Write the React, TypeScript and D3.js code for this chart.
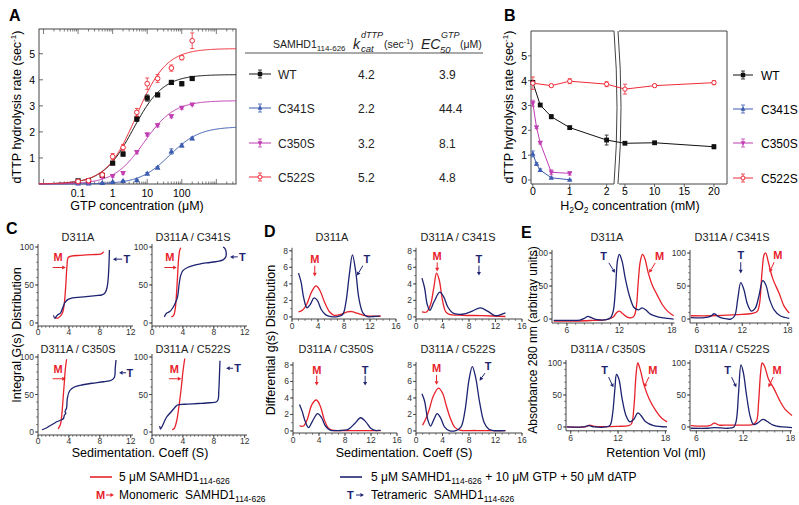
import React from "react";
import * as d3 from "d3";

type Pt = [number, number];

const FONT = "'Liberation Sans', Arial, Helvetica, sans-serif";
const RED = "#e8222b";
const NAVY = "#1d2370";
const AX = "#444";

// ---------------- Panel A data ----------------
const variants = ["WT", "C341S", "C350S", "C522S"];
const kcatValues = [4.2, 2.2, 3.2, 5.2];
const ec50Values = [3.9, 44.4, 8.1, 4.8];
const gtpConc = [0.1, 0.2, 0.5, 1, 2, 5, 10, 20, 50, 100, 200];
const rateWT = [0.12, 0.12, 0.33, 0.8, 1.15, 2.5, 3.3, 3.42, 3.9, 3.85, 4.05];
const rateC341S = [0.02, 0.02, 0.04, 0.08, 0.12, 0.15, 0.4, 0.63, 1.25, 1.48, 1.75];
const rateC350S = [0.05, 0.06, 0.27, 0.3, 0.42, 1.22, 1.9, 2.25, 2.6, 2.92, 3.05];
const rateC522S = [0.1, 0.13, 0.35, 1.05, 1.4, 2.75, 3.85, 4.05, 4.45, 4.85, 5.5];
const errWT = [0.03, 0.03, 0.05, 0.06, 0.08, 0.1, 0.12, 0.06, 0.05, 0.08, 0.04];
const errC341S = [0.02, 0.02, 0.02, 0.02, 0.02, 0.03, 0.04, 0.04, 0.1, 0.06, 0.05];
const errC350S = [0.03, 0.03, 0.04, 0.04, 0.04, 0.06, 0.06, 0.06, 0.06, 0.05, 0.04];
const errC522S = [0.04, 0.05, 0.08, 0.12, 0.12, 0.15, 0.22, 0.15, 0.12, 0.08, 0.3];
const aXTicks = [0.1, 1, 10, 100];
const aXTickLabels = ["0.1", "1", "10", "100"];
const aYTicks = [1, 2, 3, 4, 5];

// ---------------- Panel B data ----------------
const bxWT = [0, 0.2, 0.5, 1, 2, 5, 10, 20];
const byWT = [3.93, 3.02, 2.55, 2.11, 1.61, 1.48, 1.5, 1.34];
const beWT = [0.08, 0.05, 0.08, 0.05, 0.2, 0.05, 0.05, 0.08];
const bxC341S = [0, 0.1, 0.2, 0.5, 1];
const byC341S = [1.05, 0.65, 0.4, 0.09, 0.01];
const beC341S = [0.12, 0.05, 0.05, 0.03, 0.02];
const bxC350S = [0, 0.1, 0.2, 0.5, 1];
const byC350S = [3.09, 2.12, 1.5, 0.31, 0.27];
const beC350S = [0.12, 0.05, 0.05, 0.1, 0.07];
const bxC522S = [0, 0.5, 1, 2, 5, 10, 20];
const byC522S = [3.9, 3.8, 3.98, 3.86, 3.66, 3.8, 3.92];
const beC522S = [0.25, 0.05, 0.1, 0.1, 0.2, 0.05, 0.08];
const bXTicksLeft = [0, 1, 2];
const bXTicksRight = [5, 10, 15, 20];
const bYTicks = [0, 1, 2, 3, 4, 5];

// ---------------- Panel C data (integral G(s)) ----------------
const cD311A_red: Pt[] = [[2.2, 8], [2.5, 6], [2.9, 9], [3.2, 14], [3.4, 25], [3.6, 50], [3.75, 75], [3.9, 86], [4.3, 88], [5.5, 89], [7, 90], [8.2, 91], [8.5, 94]];
const cD311A_blue: Pt[] = [[2.0, 10], [2.2, 6], [2.4, 9], [2.6, 11], [2.9, 13], [3.2, 20], [3.5, 27], [3.9, 31], [4.5, 33], [5.5, 34], [6.5, 35], [7.5, 36], [8.3, 37], [8.7, 40], [8.95, 47], [9.1, 60], [9.2, 80], [9.25, 96]];
const cC341S_red: Pt[] = [[2.5, 8], [2.8, 10], [3.0, 18], [3.15, 35], [3.3, 60], [3.45, 85], [3.6, 96], [3.75, 99]];
const cC341S_blue: Pt[] = [[1.6, 8], [1.9, 13], [2.3, 15], [2.7, 20], [3.0, 26], [3.3, 34], [3.5, 50], [3.7, 62], [4.0, 69], [4.6, 73], [5.5, 76], [7, 79], [8.5, 81], [9.2, 83], [9.55, 87], [9.6, 93], [9.45, 98], [9.2, 100]];
const cC350S_red: Pt[] = [[2.6, 4], [2.9, 10], [3.1, 25], [3.25, 45], [3.4, 65], [3.55, 85], [3.7, 97]];
const cC350S_blue: Pt[] = [[0.5, 3], [1.0, 5], [1.5, 8], [2.0, 11], [2.5, 14], [3.0, 16], [3.3, 18], [3.4, 22], [3.6, 25], [3.5, 27], [3.7, 32], [3.8, 45], [4.1, 55], [4.7, 60], [5.8, 63], [7, 65], [8.5, 67], [9.5, 69], [9.9, 73], [10.0, 85], [10.1, 96]];
const cC522S_red: Pt[] = [[2.6, 3], [2.9, 5], [3.2, 15], [3.5, 35], [3.8, 60], [4.0, 80], [4.2, 95], [4.25, 98]];
const cC522S_blue: Pt[] = [[1.0, 8], [1.1, 4], [1.3, 7], [1.6, 14], [1.9, 20], [2.4, 26], [2.9, 32], [3.3, 36], [4.2, 37], [6, 38], [7.5, 39], [8.3, 40], [8.55, 43], [8.65, 55], [8.75, 80], [8.8, 95]];
const cXTicks = [0, 4, 8, 12];
const cYTicks = [0, 50, 100];

// ---------------- Panel D data (differential g(s)) ----------------
const dD311A_blue: Pt[] = [[1.0, 5.3], [1.4, 4.2], [1.8, 2.3], [2.3, 1.1], [2.8, 1.5], [3.4, 2.3], [3.9, 2.0], [4.5, 0.9], [5.2, 0.25], [6, 0.05], [7, 0.05], [7.8, 0.3], [8.3, 1.8], [8.8, 5], [9.3, 7.5], [9.8, 5.5], [10.3, 2.2], [10.9, 0.5], [11.6, 0.05], [12.5, 0.05], [13.5, 0.1]];
const dD311A_red: Pt[] = [[1.0, 0.6], [1.6, 0.8], [2.3, 1.6], [3.0, 3.0], [3.7, 3.75], [4.3, 3.2], [5.0, 1.8], [5.8, 0.6], [6.5, 0.2], [7.5, 0.3], [8.5, 0.6], [9.2, 0.65], [10, 0.45], [11, 0.2], [12, 0.1], [13.7, 0.1]];
const dC341S_blue: Pt[] = [[0.9, 4.7], [1.3, 3.5], [1.7, 1.5], [2.1, 0.8], [2.7, 1.8], [3.6, 3.0], [4.2, 2.4], [4.8, 1.2], [5.5, 0.5], [6.5, 0.3], [7.5, 0.4], [8.5, 0.7], [9.7, 1.1], [10.8, 0.7], [11.8, 0.2], [12.3, 0.15], [13.0, 0.35], [13.5, 0.5]];
const dC341S_red: Pt[] = [[0.9, 0.6], [1.6, 0.6], [2.2, 1.5], [2.7, 3.6], [3.1, 5.3], [3.5, 4.5], [4.0, 2.0], [4.5, 0.6], [5, 0.3], [7, 0.2], [10, 0.15], [13.5, 0.05]];
const dC350S_blue: Pt[] = [[1.0, 3.2], [1.4, 2.4], [1.9, 1.1], [2.4, 0.4], [3.0, 1.2], [3.8, 2.1], [4.4, 1.6], [5.0, 0.6], [5.7, 0.1], [7, 0.05], [8.5, 0.2], [9.5, 0.9], [10.4, 1.6], [11.2, 1.1], [12, 0.3], [12.8, 0.05], [13.5, 0.1]];
const dC350S_red: Pt[] = [[1.0, 0.6], [1.6, 0.6], [2.2, 1.4], [2.9, 3.2], [3.6, 3.75], [4.2, 3.0], [4.8, 1.4], [5.4, 0.4], [6, 0.1], [8, 0.05], [13.5, 0.05]];
const dC522S_blue: Pt[] = [[0.9, 4.5], [1.3, 3.6], [1.8, 1.3], [2.2, 0.6], [2.7, 1.4], [3.2, 2.1], [3.7, 1.6], [4.3, 0.5], [5, 0.05], [6, 0.05], [6.8, 0.5], [7.4, 2.5], [8.0, 6.2], [8.5, 7.8], [9.0, 6.5], [9.6, 3.5], [10.3, 1.0], [11.0, 0.2], [11.6, 0.05], [13.5, 0.05]];
const dC522S_red: Pt[] = [[1.0, 0.7], [1.5, 1.5], [2.0, 2.6], [2.6, 4.2], [3.4, 5.2], [4.0, 4.6], [4.6, 3.0], [5.2, 1.5], [5.8, 0.5], [6.6, 0.1], [9, 0.05], [13.5, 0.05]];
const dXTicks = [0, 4, 8, 12, 16];
const dYTicks = [0, 2, 4, 6, 8];

// ---------------- Panel E data (gel filtration) ----------------
const eD311A_blue: Pt[] = [[4.5, -2], [6, -2], [7.5, -1.5], [8.0, 1], [8.4, 4], [8.8, 2], [9.5, -1], [10.5, -1], [11.0, 2], [11.3, 12], [11.55, 45], [11.8, 90], [12.0, 98], [12.3, 88], [12.7, 60], [13.2, 33], [13.7, 17], [14.2, 14], [14.6, 17], [15.0, 14], [15.6, 7], [16.5, 3], [17.5, 1], [18.2, 0]];
const eD311A_red: Pt[] = [[4.5, -3], [7, -3], [9, -2], [10.5, -1], [11.3, 3], [11.7, 10], [12.0, 12], [12.4, 8], [12.9, 3], [13.4, 2], [13.7, 5], [13.95, 20], [14.15, 55], [14.4, 88], [14.65, 98], [14.9, 92], [15.3, 70], [15.8, 50], [16.3, 37], [16.9, 22], [17.5, 12], [18.2, 5]];
const eC341S_blue: Pt[] = [[5.2, 2], [7, 2], [7.8, 4], [8.3, 8], [8.8, 4], [9.5, 1], [10.5, 0], [11.0, 5], [11.4, 30], [11.8, 55], [12.2, 45], [12.7, 22], [13.2, 12], [13.7, 16], [14.2, 35], [14.7, 58], [15.1, 52], [15.6, 30], [16.2, 14], [17, 5], [18.2, 1]];
const eC341S_red: Pt[] = [[5.2, 5], [8, 5], [10, 6], [12, 7], [13.5, 9], [14.0, 12], [14.3, 25], [14.6, 70], [14.9, 98], [15.1, 100], [15.4, 88], [16, 62], [16.9, 38], [17.5, 20], [18.2, 9]];
const eC350S_blue: Pt[] = [[5.5, 0], [7.5, 0], [8.3, 2], [9, 0], [10.5, 0], [11, 3], [11.3, 20], [11.6, 60], [11.8, 82], [12.1, 75], [12.5, 45], [13, 18], [13.5, 8], [14.0, 12], [14.5, 22], [14.9, 18], [15.5, 8], [16.5, 2], [18.2, 0]];
const eC350S_red: Pt[] = [[5.5, 0], [7.8, 0], [8.4, 3], [9, 1], [12, 1], [13.3, 2], [13.7, 5], [14.0, 30], [14.3, 85], [14.5, 100], [14.8, 90], [15.3, 65], [15.9, 45], [16.8, 25], [17.5, 14], [18.2, 8]];
const eC522S_blue: Pt[] = [[5.3, -2], [7.5, -2], [8.3, -1], [10, -2], [10.8, 0], [11.1, 10], [11.4, 55], [11.7, 97], [12.0, 85], [12.4, 50], [12.9, 15], [13.3, 4], [13.8, 6], [14.5, 12], [15.0, 9], [15.8, 3], [17, 0], [18.2, -1]];
const eC522S_red: Pt[] = [[5.3, 2], [7.7, 2], [8.3, 6], [8.9, 3], [10, 3], [12, 3], [13.3, 4], [13.7, 10], [13.95, 40], [14.2, 85], [14.4, 100], [14.7, 95], [15.2, 75], [15.9, 60], [16.6, 42], [17.3, 28], [18.2, 18]];
const eXTicks = [6, 12, 18];
const eYTicks = [0, 50, 100];

const subTitles = ["D311A", "D311A / C341S", "D311A / C350S", "D311A / C522S"];

// ---------------- helpers ----------------
function Marker({ shape, x, y, color, s = 3 }: { shape: string; x: number; y: number; color: string; s?: number }) {
  if (shape === "square") return <rect x={x - s} y={y - s} width={2 * s} height={2 * s} fill={color} />;
  if (shape === "up") return <path d={`M${x},${y - s * 1.2}L${x + s * 1.1},${y + s * 0.8}L${x - s * 1.1},${y + s * 0.8}Z`} fill={color} />;
  if (shape === "down") return <path d={`M${x},${y + s * 1.2}L${x + s * 1.1},${y - s * 0.8}L${x - s * 1.1},${y - s * 0.8}Z`} fill={color} />;
  return <circle cx={x} cy={y} r={s * 0.9} fill="white" stroke={color} strokeWidth={1} />;
}

function ErrBar({ x, y1, y2, color }: { x: number; y1: number; y2: number; color: string }) {
  return (
    <g stroke={color} strokeWidth={0.8}>
      <line x1={x} x2={x} y1={y1} y2={y2} />
      <line x1={x - 2} x2={x + 2} y1={y1} y2={y1} />
      <line x1={x - 2} x2={x + 2} y1={y2} y2={y2} />
    </g>
  );
}

function Arrow({ x1, y1, x2, y2, color }: { x1: number; y1: number; x2: number; y2: number; color: string }) {
  const a = Math.atan2(y2 - y1, x2 - x1);
  const L = 3.6, W = 2;
  const bx = x2 - L * Math.cos(a), by = y2 - L * Math.sin(a);
  const p1 = [bx + W * Math.sin(a), by - W * Math.cos(a)];
  const p2 = [bx - W * Math.sin(a), by + W * Math.cos(a)];
  return (
    <g>
      <line x1={x1} y1={y1} x2={bx} y2={by} stroke={color} strokeWidth={1} />
      <path d={`M${x2},${y2}L${p1[0]},${p1[1]}L${p2[0]},${p2[1]}Z`} fill={color} />
    </g>
  );
}

type Ann = { t: string; c: string; tx: number; ty: number; a: [number, number, number, number] };

type PlotCfg = {
  xr: [number, number]; xd: [number, number];
  yr: [number, number]; yd: [number, number];
  xTicks: number[]; yTicks: number[];
  minorX: number; minorY: number;
  title: string; titleX: number; titleY: number;
  red: Pt[]; blue: Pt[];
  anns: Ann[];
  labelGap: number;
};

function SmallPlot({ cfg }: { cfg: PlotCfg }) {
  const x = d3.scaleLinear(cfg.xd, cfg.xr);
  const y = d3.scaleLinear(cfg.yd, cfg.yr);
  const line = d3.line<Pt>().x(d => x(d[0])).y(d => y(d[1])).curve(d3.curveCatmullRom.alpha(0.5));
  const x0 = cfg.xr[0], yb = cfg.yr[0];
  const yTop = y(cfg.yTicks[cfg.yTicks.length - 1]) - 3;
  const minX = d3.range(Math.ceil(cfg.xd[0] / cfg.minorX) * cfg.minorX, cfg.xd[1] + 1e-9, cfg.minorX);
  const minY = d3.range(Math.ceil(Math.max(0, cfg.yd[0]) / cfg.minorY) * cfg.minorY, cfg.yTicks[cfg.yTicks.length - 1] + 1e-9, cfg.minorY);
  return (
    <g>
      <text x={cfg.titleX} y={cfg.titleY} textAnchor="middle" fontSize={11} fill="#222">{cfg.title}</text>
      <line x1={x0} x2={x0} y1={yb} y2={yTop} stroke={AX} strokeWidth={1} />
      <line x1={x0} x2={cfg.xr[1]} y1={yb} y2={yb} stroke={AX} strokeWidth={1} />
      {minX.map((v, i) => <line key={"mx" + i} x1={x(v)} x2={x(v)} y1={yb} y2={yb + 1.8} stroke={AX} strokeWidth={0.7} />)}
      {minY.map((v, i) => <line key={"my" + i} x1={x0 - 1.8} x2={x0} y1={y(v)} y2={y(v)} stroke={AX} strokeWidth={0.7} />)}
      {cfg.xTicks.map(v => (
        <g key={"xt" + v}>
          <line x1={x(v)} x2={x(v)} y1={yb} y2={yb + 3} stroke={AX} strokeWidth={0.9} />
          <text x={x(v)} y={yb + cfg.labelGap} textAnchor="middle" fontSize={8.5} fill="#333">{v}</text>
        </g>
      ))}
      {cfg.yTicks.map(v => (
        <g key={"yt" + v}>
          <line x1={x0 - 3} x2={x0} y1={y(v)} y2={y(v)} stroke={AX} strokeWidth={0.9} />
          <text x={x0 - 4} y={y(v) + 3} textAnchor="end" fontSize={8.5} fill="#333">{v}</text>
        </g>
      ))}
      <path d={line(cfg.red) || ""} fill="none" stroke={RED} strokeWidth={1.3} />
      <path d={line(cfg.blue) || ""} fill="none" stroke={NAVY} strokeWidth={1.3} />
      {cfg.anns.map((a, i) => (
        <g key={"an" + i}>
          <text x={x(a.tx)} y={y(a.ty)} textAnchor="middle" fontSize={11} fontWeight="bold" fill={a.c}>{a.t}</text>
          <Arrow x1={x(a.a[0])} y1={y(a.a[1])} x2={x(a.a[2])} y2={y(a.a[3])} color={a.c} />
        </g>
      ))}
    </g>
  );
}

// ---------------- Panel A ----------------
function PanelA() {
  const x = d3.scaleLog([0.0074, 3700], [39, 236]);
  const y = d3.scaleLinear([0, 5.95], [184, 29]);
  const colors = ["#111", "#3c5cb0", "#c03db2", "#ef2d38"];
  const shapes = ["square", "up", "down", "circle"];
  const rates = [rateWT, rateC341S, rateC350S, rateC522S];
  const errs = [errWT, errC341S, errC350S, errC522S];
  const fx = d3.range(0, 241).map(i => Math.pow(10, Math.log10(0.0074) + (i / 240) * (Math.log10(3700) - Math.log10(0.0074))));
  const minor: number[] = [];
  for (let e = -2; e <= 3; e++) for (let m = 1; m <= 9; m++) { const v = m * Math.pow(10, e); if (v >= 0.0074 && v <= 3700) minor.push(v); }
  const fit = d3.line<number>().x(v => x(v));
  const rowY = [74, 108, 143, 177];
  return (
    <g>
      <text x={9} y={21} fontSize={16} fontWeight="bold">A</text>
      <rect x={39} y={29} width={197} height={155} fill="none" stroke={AX} strokeWidth={1} />
      {minor.map((v, i) => {
        const major = Math.abs(Math.log10(v) - Math.round(Math.log10(v))) < 1e-6;
        const L = major ? 5 : 2.5;
        return (
          <g key={i} stroke={AX} strokeWidth={0.7}>
            <line x1={x(v)} x2={x(v)} y1={184} y2={184 - L} />
            <line x1={x(v)} x2={x(v)} y1={29} y2={29 + L} />
          </g>
        );
      })}
      {aXTicks.map((v, i) => <text key={v} x={x(v)} y={197} textAnchor="middle" fontSize={10.5}>{aXTickLabels[i]}</text>)}
      {aYTicks.map(v => (
        <g key={v}>
          <line x1={39} x2={43} y1={y(v)} y2={y(v)} stroke={AX} strokeWidth={0.8} />
          <text x={35} y={y(v) + 4} textAnchor="end" fontSize={10.5}>{v}</text>
        </g>
      ))}
      <text x={137} y={210} textAnchor="middle" fontSize={12.5}>GTP concentration (μM)</text>
      <text transform="translate(21,107) rotate(-90)" textAnchor="middle" fontSize={12.5}>
        dTTP hydrolysis rate (sec<tspan fontSize={8} dy={-5}>-1</tspan><tspan dy={5}>)</tspan>
      </text>
      {variants.map((nm, k) => (
        <path key={"fit" + nm} d={fit.y(v => y((kcatValues[k] * v) / (ec50Values[k] + v)))(fx) || ""} fill="none" stroke={colors[k]} strokeWidth={1} />
      ))}
      {variants.map((nm, k) => (
        <g key={"pts" + nm}>
          {gtpConc.map((c, i) => (
            <g key={i}>
              <ErrBar x={x(c)} y1={y(rates[k][i] - errs[k][i])} y2={y(rates[k][i] + errs[k][i])} color={colors[k]} />
              <Marker shape={shapes[k]} x={x(c)} y={y(rates[k][i])} color={colors[k]} s={2.6} />
            </g>
          ))}
        </g>
      ))}
      {/* table */}
      <line x1={245} x2={483} y1={53} y2={53} stroke="#555" strokeWidth={1} />
      <text x={273} y={48} fontSize={10.5} fill="#222">SAMHD1<tspan fontSize={8} dy={3}>114-626</tspan></text>
      <text x={353} y={49} fontSize={14} fontStyle="italic" fill="#222">k</text>
      <text x={361} y={38} fontSize={9} fontStyle="italic" fill="#222">dTTP</text>
      <text x={361} y={52} fontSize={9.5} fontStyle="italic" fill="#222">cat</text>
      <text x={384} y={48} fontSize={10.5} fill="#222">(sec<tspan fontSize={7} dy={-4}>-1</tspan><tspan dy={4}>)</tspan></text>
      <text x={421} y={49} fontSize={14} fontStyle="italic" fill="#222">EC</text>
      <text x={441} y={38} fontSize={9} fontStyle="italic" fill="#222">GTP</text>
      <text x={440} y={53} fontSize={9.5} fontStyle="italic" fill="#222">50</text>
      <text x={460} y={48} fontSize={10.5} fill="#222">(μM)</text>
      {variants.map((nm, k) => (
        <g key={"row" + nm}>
          <line x1={249} x2={271} y1={rowY[k]} y2={rowY[k]} stroke={colors[k]} strokeWidth={1} />
          <ErrBar x={260} y1={rowY[k] - 4} y2={rowY[k] + 4} color={colors[k]} />
          <Marker shape={shapes[k]} x={260} y={rowY[k]} color={colors[k]} s={2.2} />
          <text x={278} y={rowY[k] + 4.5} fontSize={12} fill="#222">{nm}</text>
          <text x={358} y={rowY[k] + 4.5} fontSize={12} fill="#222">{kcatValues[k]}</text>
          <text x={439} y={rowY[k] + 4.5} fontSize={12} fill="#222">{ec50Values[k]}</text>
        </g>
      ))}
    </g>
  );
}

// ---------------- Panel B ----------------
function PanelB() {
  const xl = d3.scaleLinear([-0.05, 2.2], [531, 614]);
  const xrS = d3.scaleLinear([4, 22.2], [619, 727]);
  const bx = (v: number) => (v <= 2.2 ? xl(v) : xrS(v));
  const y = d3.scaleLinear([-0.16, 6], [184, 31]);
  const colors = ["#111", "#3c5cb0", "#c03db2", "#ef2d38"];
  const shapes = ["square", "up", "down", "circle"];
  const xs = [bxWT, bxC341S, bxC350S, bxC522S];
  const ys = [byWT, byC341S, byC350S, byC522S];
  const es = [beWT, beC341S, beC350S, beC522S];
  const legY = [75, 109, 143, 178];
  const ln = d3.line<[number, number]>().x(d => bx(d[0])).y(d => y(d[1]));
  return (
    <g>
      <text x={504} y={21} fontSize={16} fontWeight="bold">B</text>
      <path d="M614,31 L531,31 L531,184 L614,184" fill="none" stroke={AX} strokeWidth={1} />
      <path d="M614,31 Q620,107.5 614,184" fill="none" stroke={AX} strokeWidth={1} />
      <path d="M727,31 L619,31 M619,184 L727,184 L727,31" fill="none" stroke={AX} strokeWidth={1} />
      <path d="M618,31 Q624,107.5 618,184" fill="none" stroke={AX} strokeWidth={1} />
      {bYTicks.map(v => (
        <g key={v}>
          <line x1={528} x2={531} y1={y(v)} y2={y(v)} stroke={AX} strokeWidth={0.8} />
          <text x={527} y={y(v) + 4} textAnchor="end" fontSize={10.5}>{v}</text>
        </g>
      ))}
      {[...bXTicksLeft, ...bXTicksRight].map(v => (
        <g key={v}>
          <line x1={bx(v)} x2={bx(v)} y1={184} y2={187} stroke={AX} strokeWidth={0.8} />
          <text x={bx(v)} y={195} textAnchor="middle" fontSize={10.5}>{v}</text>
        </g>
      ))}
      <text x={630} y={210} textAnchor="middle" fontSize={12.5}>
        H<tspan fontSize={8.5} dy={3}>2</tspan><tspan dy={-3}>O</tspan><tspan fontSize={8.5} dy={3}>2</tspan><tspan dy={-3}> concentration (mM)</tspan>
      </text>
      <text transform="translate(513,107) rotate(-90)" textAnchor="middle" fontSize={12.5}>
        dTTP hydrolysis rate (sec<tspan fontSize={8} dy={-5}>-1</tspan><tspan dy={5}>)</tspan>
      </text>
      {variants.map((nm, k) => (
        <g key={nm}>
          <path d={ln(xs[k].map((v, i) => [v, ys[k][i]] as [number, number])) || ""} fill="none" stroke={colors[k]} strokeWidth={1} />
          {xs[k].map((v, i) => (
            <g key={i}>
              <ErrBar x={bx(v)} y1={y(ys[k][i] - es[k][i])} y2={y(ys[k][i] + es[k][i])} color={colors[k]} />
              <Marker shape={shapes[k]} x={bx(v)} y={y(ys[k][i])} color={colors[k]} s={2.4} />
            </g>
          ))}
          <line x1={733} x2={753} y1={legY[k]} y2={legY[k]} stroke={colors[k]} strokeWidth={1} />
          <ErrBar x={743} y1={legY[k] - 4} y2={legY[k] + 4} color={colors[k]} />
          <Marker shape={shapes[k]} x={743} y={legY[k]} color={colors[k]} s={2.2} />
          <text x={761} y={legY[k] + 4.5} fontSize={12}>{nm}</text>
        </g>
      ))}
    </g>
  );
}

// ---------------- Panels C, D, E ----------------
const cBase = { xd: [0, 12.3] as [number, number], yd: [-4, 100] as [number, number], xTicks: cXTicks, yTicks: cYTicks, minorX: 0.5, minorY: 10, labelGap: 9 };
const cPlots: PlotCfg[] = [
  { ...cBase, xr: [38, 133], yr: [326, 247], title: subTitles[0], titleX: 78, titleY: 241, red: cD311A_red, blue: cD311A_blue,
    anns: [{ t: "M", c: RED, tx: 2.6, ty: 81, a: [1.9, 73, 3.6, 73] }, { t: "T", c: NAVY, tx: 11.5, ty: 79, a: [10.9, 84, 9.7, 84] }] },
  { ...cBase, xr: [152, 247], yr: [326, 247], title: subTitles[1], titleX: 193, titleY: 241, red: cC341S_red, blue: cC341S_blue,
    anns: [{ t: "M", c: RED, tx: 2.3, ty: 81, a: [1.6, 73, 3.2, 73] }, { t: "T", c: NAVY, tx: 11.7, ty: 82, a: [11.1, 87, 10.1, 87] }] },
  { ...cBase, xr: [38, 133], yr: [435, 357], title: subTitles[2], titleX: 78, titleY: 353, red: cC350S_red, blue: cC350S_blue,
    anns: [{ t: "M", c: RED, tx: 2.6, ty: 79, a: [1.9, 71, 3.6, 71] }, { t: "T", c: NAVY, tx: 11.9, ty: 73, a: [11.4, 79, 10.5, 79] }] },
  { ...cBase, xr: [152, 247], yr: [435, 357], title: subTitles[3], titleX: 193, titleY: 353, red: cC522S_red, blue: cC522S_blue,
    anns: [{ t: "M", c: RED, tx: 2.9, ty: 79, a: [2.2, 71, 3.8, 71] }, { t: "T", c: NAVY, tx: 11.1, ty: 80, a: [10.5, 85, 9.6, 85] }] },
];

const dBase = { xd: [0, 16] as [number, number], yd: [-0.25, 8.7] as [number, number], xTicks: dXTicks, yTicks: dYTicks, minorX: 1, minorY: 1, labelGap: 10 };
const dPlots: PlotCfg[] = [
  { ...dBase, xr: [292, 396], yr: [319, 245], title: subTitles[0], titleX: 332, titleY: 241, red: dD311A_red, blue: dD311A_blue,
    anns: [{ t: "M", c: RED, tx: 3.5, ty: 6.5, a: [3.5, 6.2, 3.5, 4.9] }, { t: "T", c: NAVY, tx: 11.5, ty: 6.5, a: [10.9, 6.2, 10.0, 5.0] }] },
  { ...dBase, xr: [416, 522], yr: [319, 245], title: subTitles[1], titleX: 458, titleY: 241, red: dC341S_red, blue: dC341S_blue,
    anns: [{ t: "M", c: RED, tx: 3.2, ty: 6.9, a: [3.2, 6.6, 3.2, 5.5] }, { t: "T", c: NAVY, tx: 9.5, ty: 6.5, a: [9.5, 6.2, 9.5, 5.0] }] },
  { ...dBase, xr: [293, 397], yr: [433, 359.2], title: subTitles[2], titleX: 336, titleY: 353, red: dC350S_red, blue: dC350S_blue,
    anns: [{ t: "M", c: RED, tx: 3.65, ty: 6.9, a: [3.65, 6.7, 3.65, 5.5] }, { t: "T", c: NAVY, tx: 11.1, ty: 6.9, a: [11.1, 6.7, 11.1, 5.5] }] },
  { ...dBase, xr: [416, 522], yr: [433, 359.2], title: subTitles[3], titleX: 458, titleY: 353, red: dC522S_red, blue: dC522S_blue,
    anns: [{ t: "M", c: RED, tx: 3.1, ty: 7.1, a: [3.1, 6.8, 3.1, 5.6] }, { t: "T", c: NAVY, tx: 10.9, ty: 7.4, a: [10.4, 7.0, 9.6, 6.1] }] },
];

const eBase = { yd: [-6, 105] as [number, number], xTicks: eXTicks, yTicks: eYTicks, minorX: 1, minorY: 10, labelGap: 10 };
const ePlots: PlotCfg[] = [
  { ...eBase, xr: [552, 674.5], xd: [4.3, 18.3], yr: [323, 249.7], title: subTitles[0], titleX: 607, titleY: 241, red: eD311A_red, blue: eD311A_blue,
    anns: [{ t: "T", c: NAVY, tx: 10.2, ty: 89, a: [10.8, 85, 11.5, 70] }, { t: "M", c: RED, tx: 16.6, ty: 89, a: [16.1, 85, 15.4, 70] }] },
  { ...eBase, xr: [690, 790], xd: [5.1, 18.3], yr: [323, 249.7], title: subTitles[1], titleX: 732, titleY: 241, red: eC341S_red, blue: eC341S_blue,
    anns: [{ t: "T", c: NAVY, tx: 11.8, ty: 91, a: [11.8, 86, 11.8, 69] }, { t: "M", c: RED, tx: 16.7, ty: 91, a: [16.2, 86, 15.6, 71] }] },
  { ...eBase, xr: [566, 667], xd: [5.4, 18.2], yr: [430.8, 359.8], title: subTitles[2], titleX: 608, titleY: 353, red: eC350S_red, blue: eC350S_blue,
    anns: [{ t: "T", c: NAVY, tx: 10.3, ty: 83, a: [10.8, 78, 11.4, 62] }, { t: "M", c: RED, tx: 16.4, ty: 83, a: [15.9, 78, 15.3, 62] }] },
  { ...eBase, xr: [690, 792], xd: [5.2, 18.2], yr: [430.8, 359.8], title: subTitles[3], titleX: 732, titleY: 353, red: eC522S_red, blue: eC522S_blue,
    anns: [{ t: "T", c: NAVY, tx: 10.0, ty: 83, a: [10.5, 78, 11.1, 62] }, { t: "M", c: RED, tx: 16.3, ty: 83, a: [15.8, 78, 15.2, 62] }] },
];

export default function App() {
  return (
    <svg width={799} height={505} viewBox="0 0 799 505" style={{ position: "absolute", left: 0, top: 0, background: "white" }}
      fontFamily={FONT}>
      <rect width={799} height={505} fill="white" />
      <PanelA />
      <PanelB />
      <text x={6} y={234} fontSize={16} fontWeight="bold">C</text>
      <text x={264} y={237} fontSize={16} fontWeight="bold">D</text>
      <text x={521} y={238} fontSize={16} fontWeight="bold">E</text>
      {[...cPlots, ...dPlots, ...ePlots].map((c, i) => <SmallPlot key={i} cfg={c} />)}
      <text transform="translate(21,335) rotate(-90)" textAnchor="middle" fontSize={12.5}>Integral G(s) Distribution</text>
      <text transform="translate(275,340) rotate(-90)" textAnchor="middle" fontSize={12.5}>Differential g(s) Distribution</text>
      <text transform="translate(537,340) rotate(-90)" textAnchor="middle" fontSize={12}>Absorbance 280 nm (arbitray units)</text>
      <text x={140} y={457} textAnchor="middle" fontSize={12.5}>Sedimentation. Coeff (S)</text>
      <text x={404} y={457} textAnchor="middle" fontSize={12.5}>Sedimentation. Coeff (S)</text>
      <text x={656} y={457} textAnchor="middle" fontSize={12.5}>Retention Vol (ml)</text>
      {/* legend */}
      <line x1={90} x2={112} y1={477} y2={477} stroke={RED} strokeWidth={1.6} />
      <text x={119} y={481} fontSize={12}>5 μM SAMHD1<tspan fontSize={8.5} dy={3}>114-626</tspan></text>
      <line x1={340} x2={362} y1={477} y2={477} stroke={NAVY} strokeWidth={1.6} />
      <text x={371} y={481} fontSize={12}>5 μM SAMHD1<tspan fontSize={8.5} dy={3}>114-626</tspan><tspan dy={-3}> + 10 μM GTP + 50 μM dATP</tspan></text>
      <text x={96} y={499} fontSize={11} fontWeight="bold" fill={RED}>M</text>
      <Arrow x1={106} y1={495} x2={114} y2={495} color={RED} />
      <text x={119} y={499} fontSize={12}>{"Monomeric\u00a0 SAMHD1"}<tspan fontSize={8.5} dy={3}>114-626</tspan></text>
      <text x={347} y={499} fontSize={11} fontWeight="bold" fill={NAVY}>T</text>
      <Arrow x1={356} y1={495} x2={364} y2={495} color={NAVY} />
      <text x={371} y={499} fontSize={12}>{"Tetrameric\u00a0 SAMHD1"}<tspan fontSize={8.5} dy={3}>114-626</tspan></text>
    </svg>
  );
}
